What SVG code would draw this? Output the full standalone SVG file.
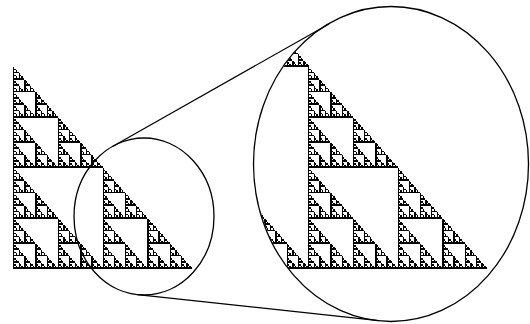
<svg xmlns="http://www.w3.org/2000/svg" xmlns:xlink="http://www.w3.org/1999/xlink" width="530" height="324" viewBox="0 0 530 324">
  <style>
    .lens { fill: none; stroke: #000; stroke-width: 1.3; }
    .tan { fill: none; stroke: #000; stroke-width: 1.2; }
    .frac { fill: #000; shape-rendering: crispEdges; }
  </style>
  <defs>
    <path id="L0" fill-rule="evenodd" d="M0,0H.25V.25H.5V.5H.75V.75H1V1H0Z M.25,.5H.5V.75H.25Z"/>
    <g id="L1"><use href="#L0" transform="scale(.5)"/><use href="#L0" transform="translate(0,.5) scale(.5)"/><use href="#L0" transform="translate(.5,.5) scale(.5)"/></g>
    <g id="L2"><use href="#L1" transform="scale(.5)"/><use href="#L1" transform="translate(0,.5) scale(.5)"/><use href="#L1" transform="translate(.5,.5) scale(.5)"/></g>
    <g id="L3"><use href="#L2" transform="scale(.5)"/><use href="#L2" transform="translate(0,.5) scale(.5)"/><use href="#L2" transform="translate(.5,.5) scale(.5)"/></g>
    <g id="L4"><use href="#L3" transform="scale(.5)"/><use href="#L3" transform="translate(0,.5) scale(.5)"/><use href="#L3" transform="translate(.5,.5) scale(.5)"/></g>
    <g id="L5"><use href="#L4" transform="scale(.5)"/><use href="#L4" transform="translate(0,.5) scale(.5)"/><use href="#L4" transform="translate(.5,.5) scale(.5)"/></g>
    <clipPath id="bigClip"><ellipse cx="391" cy="164" rx="137" ry="157"/></clipPath>
  </defs>
  <rect width="530" height="324" fill="#fff"/>
  <g id="original" class="frac">
    <use href="#L5" transform="translate(13,67) scale(179,202)"/>
  </g>
  <g id="magnified" class="frac" clip-path="url(#bigClip)">
    <use href="#L5" transform="translate(130,-135) scale(179,202)"/>
    <use href="#L5" transform="translate(130,67) scale(179,202)"/>
    <use href="#L5" transform="translate(308,67) scale(179,202)"/>
  </g>
  <g id="lens-small">
    <ellipse class="lens" cx="144" cy="216.5" rx="70" ry="78.5"/>
  </g>
  <g id="lens-big">
    <ellipse class="lens" cx="391" cy="164" rx="137.5" ry="157.5"/>
  </g>
  <g id="connectors">
    <line class="tan" x1="112.5" y1="146.4" x2="329" y2="24"/>
    <line class="tan" x1="137.4" y1="294.6" x2="378.8" y2="320.6"/>
  </g>
</svg>
